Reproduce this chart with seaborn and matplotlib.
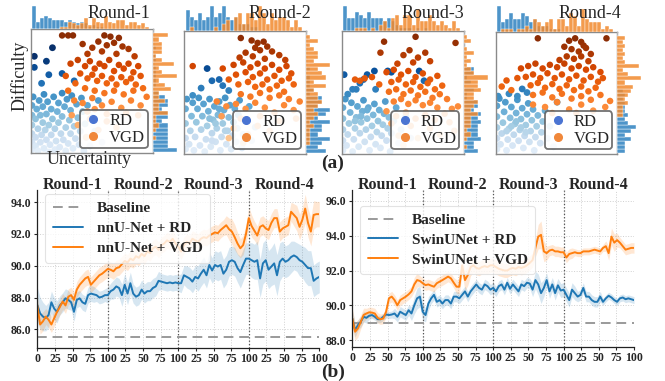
import numpy as np
import matplotlib
matplotlib.use("Agg")
import matplotlib.pyplot as plt
from matplotlib.lines import Line2D
import seaborn as sns

sns.set_theme(style="white")
plt.rcParams['font.family'] = ['Liberation Serif', 'DejaVu Serif']

W, H = 665, 381

# ---------------- data: scatter panels (uncertainty, difficulty in 0-100) -------------
rounds = ["Round-1", "Round-2", "Round-3", "Round-4"]

rd_pts = [
    "0 2 0 8 0 15 0 22 0 30 0 38 1 45 3 5 3 12 3 27 4 35 5 1 5 19 6 42 7 8 7 30 8 14 9 24 9 37 10 3 "
    "10 47 11 18 12 10 12 31 13 41 14 0 14 22 15 6 16 35 16 14 17 27 18 45 19 2 19 19 20 9 21 33 22 24 "
    "22 40 23 4 24 15 25 29 25 48 26 10 27 37 28 20 28 1 29 43 30 7 31 26 32 15 32 34 33 46 34 3 35 21 "
    "36 11 37 39 38 28 39 6 40 17 41 44 42 33 43 1 44 23 45 12 46 38 48 5 50 28 52 17 55 42 58 8 "
    "2 69 2 78 17 85 12 74 14 63 25 64 8 56 35 58",
    "0 3 0 12 0 24 0 36 1 44 3 7 4 18 5 30 6 41 7 2 8 13 9 25 10 36 11 45 12 6 13 19 14 30 15 40 16 1 "
    "17 11 18 22 19 34 20 44 21 5 22 16 23 27 24 38 25 9 26 20 27 31 28 42 29 2 30 13 31 24 32 35 33 45 "
    "34 7 35 18 36 29 37 39 38 3 39 14 40 25 41 36 42 9 43 20 44 31 45 43 47 4 48 15 50 26 53 38 55 10 "
    "58 21 20 28 25 24 30 30 28 36 33 18 22 10 18 69 22 59 28 60 31 55 13 53 36 51 6 47",
    "0 2 0 10 0 19 0 28 0 37 2 44 3 6 4 15 5 24 6 33 7 41 8 1 9 11 10 20 11 29 12 38 13 5 14 16 15 25 "
    "16 34 17 43 18 9 19 19 20 28 21 37 22 2 23 13 24 22 25 31 26 40 27 7 28 17 29 26 30 35 31 4 32 14 "
    "33 23 34 32 35 42 36 10 37 20 38 29 39 1 40 16 42 26 44 37 46 8 48 19 52 30 56 12 15 30 20 35 10 26 "
    "1 64 14 57 17 60 20 64 8 52 11 52 26 67 37 67 40 66 63 67 67 59 27 52 4 48",
    "0 3 0 12 0 21 0 30 0 39 2 45 3 7 4 16 5 25 6 34 7 42 8 2 9 11 10 20 11 29 12 38 13 6 14 15 15 24 "
    "16 33 17 44 18 10 19 19 20 28 21 37 22 4 23 14 24 23 25 32 26 41 27 9 28 18 29 27 30 36 31 2 32 13 "
    "33 22 34 31 36 8 37 17 38 26 40 35 42 12 44 22 47 5 12 22 16 26 8 18 20 21 24 17 17 47 21 53 25 50 "
    "50 42 1 47 10 49",
]

vgd_pts = [
    "25 95 30 95 34 95 60 95 65 94 72 93 42 88 50 85 55 90 62 87 68 89 75 86 80 84 46 80 58 82 70 80 "
    "85 78 32 72 38 75 44 70 48 74 52 68 56 72 60 70 64 75 68 66 72 71 76 68 80 72 84 65 88 70 40 64 "
    "46 60 50 63 54 58 58 62 62 56 66 60 70 55 74 61 78 57 82 60 86 55 90 62 36 56 44 52 52 50 60 48 "
    "68 50 76 47 84 50 92 52 28 62 30 50 35 42 42 40 50 44 58 38 66 41 74 36 82 42 90 38 95 45 46 33 "
    "62 31 78 32 88 30 38 22 48 27 55 18 62 25 45 12 70 20 52 35 33 30",
    "46 94 55 92 60 90 65 91 68 87 58 86 50 82 62 84 72 83 78 80 45 78 56 79 66 77 83 76 40 72 48 74 "
    "54 70 60 73 66 69 72 72 78 68 84 71 88 65 42 64 50 66 56 62 62 65 68 60 74 63 80 59 86 61 44 56 "
    "52 58 58 54 64 56 70 52 76 55 82 50 90 56 46 48 54 46 62 49 70 45 78 47 86 44 6 71 31 69 36 60 "
    "26 42 34 38 42 40 50 36 58 41 66 37 74 33 82 39 90 35 95 42 30 30 46 28 62 30 78 26 92 28 40 20 "
    "52 15 60 22 70 18 48 8 36 12",
    "60 95 34 91 93 90 31 82 50 80 55 84 62 78 68 82 72 75 45 73 58 74 36 66 42 68 48 64 54 67 60 62 "
    "66 65 72 60 78 63 40 58 46 60 52 56 58 58 64 54 70 57 76 52 82 55 38 50 44 52 50 48 56 51 62 47 "
    "68 50 74 45 80 48 86 44 42 42 48 44 54 40 60 43 66 39 72 41 78 37 10 60 14 59 18 61 24 62 30 56 "
    "36 34 44 30 52 33 60 28 68 31 76 27 84 32 90 36 95 38 40 24 56 22 72 20 88 25 46 14 62 12 80 15 "
    "92 18 50 6",
    "34 95 91 95 60 93 65 95 70 92 72 89 56 88 62 86 68 84 74 87 78 82 58 80 64 78 70 80 76 76 52 77 "
    "20 70 26 72 32 74 38 70 44 73 50 71 56 74 62 70 68 72 74 69 80 71 86 67 24 63 30 65 36 62 42 66 "
    "48 62 54 65 60 61 66 64 72 60 78 63 84 59 88 62 28 56 34 58 40 54 46 57 52 53 58 56 64 52 70 55 "
    "76 51 82 54 30 48 38 50 46 46 54 49 62 45 70 47 78 44 86 48 4 55 8 60 12 52 17 62 30 40 40 38 "
    "50 42 60 36 70 40 80 35 90 38 94 43 46 33 66 33",
]

# ---------------- data: training curves (epoch within 4 rounds of 100) ----------------
epochs = list(range(0, 401, 4))
xtick_pos = list(range(0, 401, 25))
xtick_labels = ["0", "25", "50", "75", "100", "25", "50", "75", "100",
                "25", "50", "75", "100", "25", "50", "75", "100"]

nn_rd = [87.53, 87.0, 86.8, 86.7, 86.9, 87.7, 87.3, 87.1, 87.5, 87.7, 87.95, 87.85, 87.7, 87.1, 87.85,
         87.95, 87.7, 87.6, 88.15, 88.25, 88.2, 88.15, 88.0, 88.05, 88.15,
         88.15, 88.4, 88.5, 88.7, 88.6, 88.15, 88.8, 88.25, 88.9, 88.25, 88.05, 88.15, 88.5, 88.25, 88.4,
         88.4, 88.6, 88.7, 89.05, 89.0, 88.95, 88.9, 88.95, 88.9, 88.95,
         88.9, 88.9, 89.4, 89.3, 89.2, 89.0, 89.3, 89.2, 89.5, 89.75, 89.4, 90.05, 89.7, 90.05, 89.95,
         90.05, 89.5, 89.75, 90.25, 90.35, 90.25, 89.85, 89.6, 90.05, 90.45,
         90.45, 90.35, 90.25, 90.35, 89.2, 90.15, 90.35, 89.75, 89.95, 90.15, 89.4, 90.25, 90.45, 90.25,
         90.35, 90.55, 90.65, 90.55, 90.35, 90.25, 90.05, 89.85, 89.85, 89.05, 89.2, 89.3]
nn_rd_band = [1.1, 1.0, 0.9, 0.8, 0.8, 0.7, 0.7, 0.7, 0.6, 0.6, 0.6, 0.6, 0.5, 0.6, 0.5, 0.5, 0.5, 0.5,
              0.5, 0.5, 0.5, 0.4, 0.4, 0.4, 0.4,
              0.5, 0.5, 0.6, 0.6, 0.6, 0.7, 0.7, 0.7, 0.7, 0.6, 0.6, 0.6, 0.6, 0.6, 0.6, 0.6, 0.6, 0.6,
              0.6, 0.5, 0.5, 0.5, 0.5, 0.5, 0.5,
              0.5, 0.6, 0.6, 0.7, 0.7, 0.7, 0.7, 0.8, 0.8, 0.8, 0.8, 0.8, 0.8, 0.9, 0.9, 0.9, 0.9, 0.9,
              0.9, 0.9, 0.9, 0.9, 1.0, 1.0, 1.0,
              1.0, 1.1, 1.1, 1.2, 1.2, 1.3, 1.3, 1.2, 1.2, 1.3, 1.3, 1.2, 1.1, 1.0, 1.0, 1.0, 0.9, 0.9,
              1.0, 1.0, 1.1, 1.1, 1.1, 1.0, 1.0, 1.0]
nn_vgd = [87.5, 86.3, 86.5, 86.8, 86.6, 86.3, 86.7, 87.1, 87.4, 87.75, 87.5, 88.05, 88.15, 87.85, 88.5,
          88.8, 89.0, 89.2, 89.3, 88.8, 89.0, 89.2, 89.4, 89.5, 89.65,
          89.8, 89.75, 89.65, 89.85, 89.9, 90.1, 90.3, 90.2, 90.45, 90.35, 90.6, 90.5, 90.75, 90.6, 90.9,
          90.8, 91.1, 91.2, 91.0, 91.3, 91.4, 91.6, 91.5, 91.7, 91.4,
          91.2, 90.9, 91.3, 91.5, 91.4, 91.7, 91.6, 91.5, 91.7, 91.8, 91.75, 91.9, 92.0, 92.1, 92.05,
          92.25, 92.4, 92.55, 92.3, 92.15, 91.8, 91.4, 91.1, 91.3, 92.0,
          93.0, 92.5, 92.2, 91.9, 92.45, 92.55, 92.35, 92.25, 92.7, 93.0, 93.0, 92.15, 92.35, 92.45,
          92.55, 93.4, 93.2, 93.0, 92.45, 92.9, 93.6, 92.7, 92.15, 93.2, 93.25, 93.25]
nn_vgd_band = [0.6, 0.6, 0.6, 0.5, 0.5, 0.5, 0.5, 0.5, 0.5, 0.5, 0.5, 0.5, 0.5, 0.5, 0.5, 0.5, 0.5,
               0.5, 0.5, 0.5, 0.5, 0.5, 0.5, 0.5, 0.5,
               0.5, 0.5, 0.5, 0.5, 0.5, 0.5, 0.5, 0.5, 0.5, 0.5, 0.5, 0.5, 0.5, 0.5, 0.5, 0.5, 0.5,
               0.5, 0.5, 0.5, 0.5, 0.5, 0.5, 0.5, 0.5,
               0.5, 0.5, 0.5, 0.5, 0.5, 0.5, 0.5, 0.5, 0.5, 0.5, 0.5, 0.5, 0.5, 0.5, 0.5, 0.5, 0.5,
               0.6, 0.7, 0.8, 0.8, 0.7, 0.6, 0.6, 0.6,
               0.7, 0.7, 0.6, 0.6, 0.6, 0.6, 0.6, 0.6, 0.6, 0.6, 0.6, 0.6, 0.6, 0.6, 0.6, 0.6, 0.7,
               0.8, 0.8, 0.8, 0.9, 0.9, 0.9, 0.9, 0.8, 0.8]

sw_rd = [89.24, 88.57, 88.86, 89.05, 89.34, 89.28, 89.4, 89.44, 89.34, 89.2, 89.2, 89.34, 89.47, 89.44,
         89.47, 89.53, 89.34, 89.63, 89.53, 89.44, 89.72, 89.53, 90.0, 90.4, 90.5,
         89.63, 89.44, 90.1, 90.4, 90.6, 90.2, 90.3, 90.1, 90.3, 90.3, 90.1, 90.5, 90.5, 90.4, 90.6,
         90.8, 90.5, 90.8, 91.0, 91.2, 91.0, 90.9, 91.2, 91.1, 90.9,
         91.0, 90.8, 91.1, 91.2, 90.9, 91.3, 90.95, 91.2, 91.0, 90.8, 91.2, 91.1, 91.3, 91.25, 90.9,
         91.45, 91.2, 90.7, 91.0, 91.45, 90.8, 91.2, 90.7, 91.15, 90.85,
         90.9, 90.6, 90.3, 90.9, 90.7, 90.5, 90.6, 91.0, 90.5, 90.5, 90.3, 90.2, 90.2, 90.5, 90.2, 90.4,
         90.55, 90.45, 90.3, 90.2, 90.4, 90.45, 90.35, 90.4, 90.35, 90.3]
sw_rd_band = [0.5, 0.4, 0.3, 0.3, 0.3, 0.3, 0.2, 0.2, 0.2, 0.2, 0.2, 0.2, 0.2, 0.2, 0.2, 0.3, 0.3, 0.3,
              0.3, 0.3, 0.3, 0.4, 0.5, 0.6, 0.6,
              0.5, 0.4, 0.4, 0.3, 0.3, 0.3, 0.3, 0.3, 0.3, 0.3, 0.3, 0.3, 0.3, 0.3, 0.3, 0.3, 0.3, 0.3,
              0.3, 0.3, 0.3, 0.3, 0.3, 0.3, 0.3,
              0.3, 0.3, 0.3, 0.3, 0.3, 0.3, 0.3, 0.3, 0.3, 0.3, 0.3, 0.3, 0.3, 0.3, 0.4, 0.5, 0.6, 0.6,
              0.5, 0.4, 0.4, 0.4, 0.4, 0.4, 0.4,
              0.4, 0.4, 0.4, 0.4, 0.4, 0.3, 0.3, 0.3, 0.3, 0.3, 0.3, 0.3, 0.3, 0.3, 0.2, 0.2, 0.2, 0.2,
              0.2, 0.2, 0.2, 0.2, 0.2, 0.2, 0.2, 0.2]
sw_vgd = [89.24, 88.48, 88.67, 89.05, 89.44, 89.53, 89.6, 89.58, 89.53, 89.28, 89.2, 89.24, 89.63, 90.4,
          90.5, 90.3, 90.0, 90.3, 90.4, 90.5, 90.63, 90.8, 91.2, 91.45, 91.4,
          91.27, 91.16, 91.2, 91.13, 91.07, 91.27, 91.36, 91.45, 91.55, 91.65, 91.55, 91.3, 91.07, 91.07,
          92.3, 91.45, 91.74, 92.2, 92.3, 92.15, 92.1, 92.2, 92.25, 92.2, 92.3,
          92.3, 92.2, 92.1, 92.05, 92.0, 92.0, 92.1, 92.15, 92.1, 92.2, 92.15, 92.2, 92.3, 92.44, 92.6,
          93.3, 93.95, 94.05, 93.1, 93.0, 93.15, 93.2, 93.1, 93.1, 93.05,
          93.05, 92.75, 92.95, 93.0, 93.05, 93.0, 93.0, 93.1, 93.1, 93.1, 93.15, 93.2, 93.15, 93.1, 93.3,
          93.4, 93.0, 93.95, 93.6, 93.75, 93.6, 93.4, 93.2, 93.25, 93.3, 93.3]
sw_vgd_band = [0.6, 0.5, 0.5, 0.4, 0.4, 0.3, 0.3, 0.3, 0.3, 0.3, 0.3, 0.3, 0.3, 0.3, 0.3, 0.3, 0.3,
               0.3, 0.3, 0.3, 0.3, 0.3, 0.4, 0.4, 0.3,
               0.3, 0.3, 0.3, 0.3, 0.3, 0.3, 0.3, 0.3, 0.3, 0.3, 0.3, 0.3, 0.4, 0.4, 0.5, 0.6, 0.6,
               0.5, 0.4, 0.4, 0.4, 0.4, 0.4, 0.4, 0.4,
               0.4, 0.4, 0.4, 0.4, 0.4, 0.4, 0.4, 0.4, 0.4, 0.4, 0.4, 0.4, 0.4, 0.4, 0.4, 0.5, 0.7,
               0.8, 0.6, 0.4, 0.3, 0.3, 0.3, 0.3, 0.3,
               0.3, 0.3, 0.3, 0.3, 0.2, 0.2, 0.2, 0.2, 0.2, 0.2, 0.2, 0.2, 0.2, 0.2, 0.2, 0.3, 0.4,
               0.5, 0.5, 0.4, 0.3, 0.3, 0.3, 0.3, 0.3, 0.3]

baselines = [85.5, 89.0]
model_names = ["nnU-Net", "SwinUNet"]

# ---------------- figure ----------------
fig = plt.figure(figsize=(W / 100, H / 100), dpi=100)


def rect(x0, y0, x1, y1):
    return [x0 / W, 1 - y1 / H, (x1 - x0) / W, (y1 - y0) / H]


main_boxes = [(30.7, 29.3, 152.7, 153.3), (184.3, 30.7, 305.7, 154),
              (341.7, 30.7, 464, 154), (495.7, 32.3, 617.3, 154)]
title_cx = [119, 280, 433, 590]
hist_blue = "#3a89c4"
hist_orange = "#f28a2e"
bins = np.linspace(0, 100, 31)

for i, (x0, y0, x1, y1) in enumerate(main_boxes):
    rd = np.array(rd_pts[i].split(), dtype=float).reshape(-1, 2)
    vg = np.array(vgd_pts[i].split(), dtype=float).reshape(-1, 2)
    ax = fig.add_axes(rect(x0, y0, x1, y1))
    sns.scatterplot(x=rd[:, 0], y=rd[:, 1], hue=rd[:, 1], palette="Blues", hue_norm=(-8, 78),
                    s=24, linewidth=0, legend=False, ax=ax)
    sns.scatterplot(x=vg[:, 0], y=vg[:, 1], hue=vg[:, 1], palette="Oranges", hue_norm=(-25, 100),
                    s=22, linewidth=0, legend=False, ax=ax)
    ax.set_xlim(-1, 100)
    ax.set_ylim(-1, 100)
    ax.set_xticks([])
    ax.set_yticks([])
    ax.set_xlabel("")
    ax.set_ylabel("")
    for sp in ax.spines.values():
        sp.set_color("#8a8a8a")
        sp.set_linewidth(1.0)
    handles = [Line2D([], [], marker='o', ls='', color='#4a74d2', ms=5.5),
               Line2D([], [], marker='o', ls='', color='#f0873a', ms=5.5)]
    leg = ax.legend(handles, ["RD", "VGD"], loc="lower right", fontsize=12, frameon=True,
                    fancybox=True, framealpha=0.85, edgecolor="#5a5a5a", borderpad=0.15,
                    labelspacing=0.05, handletextpad=0.3, handlelength=1.3, borderaxespad=0.3)
    leg.get_frame().set_linewidth(1.3)

    axt = fig.add_axes(rect(x0, 6, x1, y0))
    sns.histplot(x=rd[:, 0], bins=bins, color=hist_blue, alpha=0.9, edgecolor="white",
                 linewidth=0.3, ax=axt)
    sns.histplot(x=vg[:, 0], bins=bins, color=hist_orange, alpha=0.85, edgecolor="white",
                 linewidth=0.3, ax=axt)
    axt.set_xlim(-1, 100)
    axt.margins(y=0)
    axt.axis("off")

    axr = fig.add_axes(rect(x1, y0, x1 + 24, y1))
    sns.histplot(y=rd[:, 1], bins=bins, color=hist_blue, alpha=0.9, edgecolor="white",
                 linewidth=0.3, ax=axr)
    sns.histplot(y=vg[:, 1], bins=bins, color=hist_orange, alpha=0.85, edgecolor="white",
                 linewidth=0.3, ax=axr)
    axr.set_ylim(-1, 100)
    axr.margins(x=0)
    axr.axis("off")

    fig.text(title_cx[i] / W, 1 - 13 / H, rounds[i], ha="center", va="center", fontsize=13)

fig.text(20 / W, 1 - 76 / H, "Difficulty", rotation=90, ha="center", va="center", fontsize=13)
fig.text(89 / W, 1 - 160 / H, "Uncertainty", ha="center", va="center", fontsize=13)
fig.text(333 / W, 1 - 163 / H, "(a)", ha="center", va="center", fontsize=14, fontweight="bold")
fig.text(333 / W, 1 - 372 / H, "(b)", ha="center", va="center", fontsize=14, fontweight="bold")

# ---------------- line charts ----------------
line_boxes = [(37.3, 190, 319.3, 347.7), (352.3, 190, 634, 346.7)]
ylims = [(84.84, 94.77), (87.62, 96.63)]
yticks = [[86, 88, 90, 92, 94], [88, 90, 92, 94, 96]]
series = [(nn_rd, nn_rd_band, nn_vgd, nn_vgd_band), (sw_rd, sw_rd_band, sw_vgd, sw_vgd_band)]
legend_anchor = [(0.027, 0.975), (0.027, 0.9)]
blue = "#1f77b4"
orange = "#ff7f0e"

for j, (x0, y0, x1, y1) in enumerate(line_boxes):
    ax = fig.add_axes(rect(x0, y0, x1, y1))
    rd, rdb, vg, vgb = [np.array(s) for s in series[j]]
    ax.axhline(baselines[j], color="#9a9a9a", ls=(0, (5, 3)), lw=1.4, label="Baseline", zorder=2)
    ax.fill_between(epochs, rd - rdb, rd + rdb, color=blue, alpha=0.18, lw=0)
    ax.fill_between(epochs, vg - vgb, vg + vgb, color=orange, alpha=0.18, lw=0)
    sns.lineplot(x=epochs, y=rd, color=blue, lw=1.4, label=f"{model_names[j]} + RD", ax=ax)
    sns.lineplot(x=epochs, y=vg, color=orange, lw=1.4, label=f"{model_names[j]} + VGD", ax=ax)
    for b in [100, 200, 300]:
        ax.axvline(b, color="#555555", ls=":", lw=0.9, zorder=1)
    ax.set_xlim(0, 400)
    ax.set_ylim(*ylims[j])
    ax.set_xticks(xtick_pos)
    ax.set_xticklabels(xtick_labels)
    ax.set_yticks(yticks[j])
    ax.set_yticklabels([f"{v:.1f}" for v in yticks[j]])
    ax.grid(True, ls=":", color="#d0d0d0", lw=0.7)
    ax.tick_params(axis="both", labelsize=8.5, length=2.5, width=0.8, pad=1.5, direction="out",
                   bottom=True, left=True)
    for lab in ax.get_xticklabels() + ax.get_yticklabels():
        lab.set_fontweight("bold")
    for side in ["top", "right"]:
        ax.spines[side].set_visible(False)
    for side in ["left", "bottom"]:
        ax.spines[side].set_color("#222222")
        ax.spines[side].set_linewidth(0.9)
    ax.set_xlabel("")
    ax.set_ylabel("")
    leg = ax.legend(loc="upper left", bbox_to_anchor=legend_anchor[j], borderaxespad=0,
                    prop={"weight": "bold", "size": 11}, frameon=True, framealpha=0.8,
                    edgecolor="#dddddd", handlelength=2.0, handletextpad=0.9, labelspacing=0.4,
                    borderpad=0.5)
    leg.get_frame().set_linewidth(0.8)
    for k, r in enumerate(rounds):
        ax.text(50 + 100 * k, 1.03, r, transform=ax.get_xaxis_transform(), ha="center",
                va="center", fontsize=11.5, fontweight="bold", clip_on=False)

fig.savefig("out.png", dpi=100)
